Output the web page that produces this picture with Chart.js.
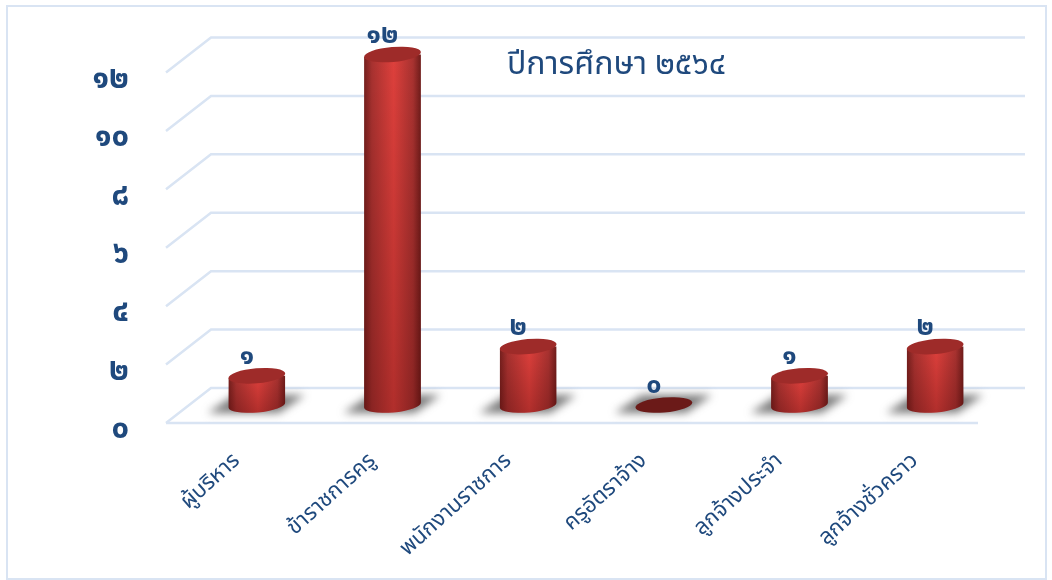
<!DOCTYPE html>
<html lang="th">
<head>
<meta charset="utf-8">
<title>ปีการศึกษา ๒๕๖๔</title>
<script src="https://cdn.jsdelivr.net/npm/chart.js@4"></script>
<style>
  html, body { margin: 0; background: #fff; }
  canvas { display: block; }
</style>
</head>
<body>
<canvas id="myChart" width="1052" height="580"></canvas>
<script>
const categories = ["ผู้บริหาร", "ข้าราชการครู", "พนักงานราชการ", "ครูอัตราจ้าง", "ลูกจ้างประจำ", "ลูกจ้างชั่วคราว"];
const staffCounts = [1, 12, 2, 0, 1, 2];
const valueLabels = ["๑", "๑๒", "๒", "๐", "๑", "๒"];
const yTickValues = [0, 2, 4, 6, 8, 10, 12];
const yTickLabels = ["๐", "๒", "๔", "๖", "๘", "๑๐", "๑๒"];
const chartTitle = "ปีการศึกษา ๒๕๖๔";

const FONT = '"Noto Sans Thai", "Noto Sans", "DejaVu Sans", sans-serif';
const TEXT_COLOR = "#1f497d";
const GRID_COLOR = "#d9e4f3";
const TILT = -5 * Math.PI / 180;
const RX = 28.5, RY = 7.5;

function cylinderFill(ctx) {
  const chart = ctx.chart;
  if (!chart.chartArea) return "#c03533";
  const x = chart.scales.x.getPixelForValue(ctx.dataIndex);
  const g = chart.ctx.createLinearGradient(x - RX, 0, x + RX, 0);
  g.addColorStop(0, "#741f1d");
  g.addColorStop(0.14, "#a83230");
  g.addColorStop(0.52, "#de403c");
  g.addColorStop(0.86, "#a83230");
  g.addColorStop(1, "#6e1c1a");
  return g;
}

// outline of a cylinder with a rounded bottom edge, added to the current path
function cylinderPath(c, bar, base) {
  const dx = RX * Math.cos(TILT), dy = RX * Math.sin(TILT);
  c.moveTo(bar.x - dx, bar.y - dy);
  c.lineTo(bar.x - dx, base - dy);
  c.ellipse(bar.x, base, RX, RY, TILT, Math.PI, 0, true);
  c.lineTo(bar.x + dx, bar.y + dy);
  c.closePath();
}

// back wall, floor and the short slanted stubs, offset from the plane the bars stand on
const wallGrid = {
  id: "wallGrid",
  beforeDraw(chart) {
    const c = chart.ctx, y = chart.scales.y, area = chart.chartArea;
    c.save();
    c.strokeStyle = GRID_COLOR;
    c.lineWidth = 2;
    c.strokeRect(7, 6, 1039, 573);
    c.lineWidth = 2.5;
    yTickValues.forEach(v => {
      const py = y.getPixelForValue(v);
      c.beginPath();
      c.moveTo(area.left - 23, py + 18);
      c.lineTo(area.left + 22, py - 17);
      c.lineTo(area.right + 22, py - 17);
      c.stroke();
    });
    const floor = y.getPixelForValue(0) + 18;
    c.beginPath();
    c.moveTo(area.left - 23, floor);
    c.lineTo(area.right - 25, floor);
    c.stroke();
    c.restore();
  },
  beforeDatasetsDraw(chart) {
    const c = chart.ctx;
    const base = chart.scales.y.getPixelForValue(0);
    c.save();
    c.filter = "blur(4px)";
    c.fillStyle = "rgba(70,70,70,0.72)";
    chart.getDatasetMeta(0).data.forEach(bar => {
      c.beginPath();
      c.moveTo(bar.x - 49, base + 8);
      c.lineTo(bar.x - 22, base - 10);
      c.lineTo(bar.x + 48, base - 10);
      c.lineTo(bar.x + 22, base + 8);
      c.closePath();
      c.fill();
    });
    c.restore();
  }
};

// library bars are clipped to the cylinder shape, then ends, title and value labels go on top
const cylinderCaps = {
  id: "cylinderCaps",
  beforeDatasetDraw(chart) {
    const c = chart.ctx;
    const base = chart.scales.y.getPixelForValue(0);
    c.save();
    c.beginPath();
    chart.getDatasetMeta(0).data.forEach((bar, i) => {
      if (staffCounts[i] > 0) cylinderPath(c, bar, base);
    });
    c.clip();
  },
  afterDatasetDraw(chart) {
    chart.ctx.restore();
  },
  afterDatasetsDraw(chart) {
    const c = chart.ctx;
    const base = chart.scales.y.getPixelForValue(0);
    chart.getDatasetMeta(0).data.forEach((bar, i) => {
      const top = bar.y;
      if (staffCounts[i] > 0) {
        // shading down the body
        const shade = c.createLinearGradient(0, top, 0, base + RY);
        shade.addColorStop(0, "rgba(60,0,0,0)");
        shade.addColorStop(1, "rgba(60,0,0,0.28)");
        c.fillStyle = shade;
        c.beginPath();
        cylinderPath(c, bar, base);
        c.fill();
      }
      c.fillStyle = staffCounts[i] > 0 ? "#9e2b29" : "#6b1a18";
      c.beginPath();
      c.ellipse(bar.x, top, RX, RY, TILT, 0, Math.PI * 2);
      c.fill();
      c.fillStyle = TEXT_COLOR;
      c.font = "bold 27px " + FONT;
      c.textAlign = "center";
      c.textBaseline = "middle";
      c.fillText(valueLabels[i], bar.x - 10, top - 17);
    });
    c.fillStyle = TEXT_COLOR;
    c.font = "32px " + FONT;
    c.textAlign = "left";
    c.textBaseline = "middle";
    c.fillText(chartTitle, 507, 68);
  }
};

new Chart(document.getElementById("myChart"), {
  type: "bar",
  data: {
    labels: categories,
    datasets: [{
      data: staffCounts,
      backgroundColor: cylinderFill,
      borderWidth: 0,
      base: -0.3,
      clip: false,
      categoryPercentage: 1,
      barPercentage: 0.42
    }]
  },
  options: {
    responsive: false,
    animation: false,
    devicePixelRatio: 1,
    layout: { padding: { left: 0, right: 49, top: 54.5, bottom: 0 } },
    plugins: { legend: { display: false }, tooltip: { enabled: false } },
    scales: {
      x: {
        grid: { display: false },
        border: { display: false },
        afterFit: s => { s.height = 175; s.paddingLeft = 0; s.paddingRight = 0; },
        ticks: {
          autoSkip: false,
          minRotation: 42,
          maxRotation: 42,
          padding: 36,
          labelOffset: -19,
          color: TEXT_COLOR,
          font: { family: FONT, size: 22 }
        }
      },
      y: {
        min: 0,
        max: 12,
        grid: { display: false },
        border: { display: false },
        afterFit: s => { s.width = 189; s.paddingTop = 0; s.paddingBottom = 0; },
        afterBuildTicks: s => { s.ticks = yTickValues.map(v => ({ value: v })); },
        ticks: {
          padding: 52,
          labelOffset: 27,
          color: TEXT_COLOR,
          font: { family: FONT, size: 31, weight: "bold" },
          callback: v => yTickLabels[yTickValues.indexOf(v)]
        }
      }
    }
  },
  plugins: [wallGrid, cylinderCaps]
});
</script>
</body>
</html>
